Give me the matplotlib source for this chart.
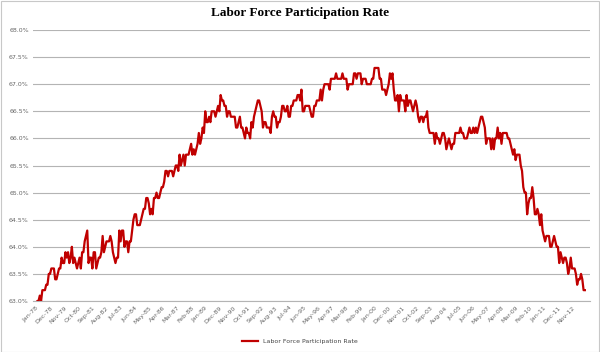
import matplotlib
matplotlib.use("Agg")
import matplotlib.pyplot as plt
import pandas as pd
import numpy as np

# Monthly labor force participation rate, Jan-1978 .. Sep-2013
rate_1978_1987 = [
    62.8, 63.0, 63.0, 63.1, 63.0, 63.2, 63.2, 63.2, 63.3, 63.3, 63.5, 63.5,
    63.6, 63.6, 63.6, 63.4, 63.4, 63.5, 63.6, 63.6, 63.8, 63.7, 63.7, 63.9,
    63.8, 63.9, 63.7, 63.8, 64.0, 63.7, 63.8, 63.7, 63.6, 63.7, 63.8, 63.6,
    63.9, 63.9, 64.1, 64.2, 64.3, 63.7, 63.8, 63.8, 63.6, 63.9, 63.9, 63.6,
    63.7, 63.8, 63.8, 63.9, 64.2, 63.9, 64.0, 64.1, 64.1, 64.1, 64.2, 64.1,
    63.9, 63.8, 63.7, 63.8, 63.8, 64.3, 64.1, 64.3, 64.3, 64.0, 64.1, 64.1,
    63.9, 64.1, 64.1, 64.3, 64.5, 64.6, 64.6, 64.4, 64.4, 64.4, 64.5, 64.6,
    64.7, 64.7, 64.9, 64.9, 64.8, 64.6, 64.7, 64.6, 64.9, 64.9, 65.0, 64.9,
    64.9, 65.0, 65.1, 65.1, 65.2, 65.4, 65.4, 65.3, 65.4, 65.4, 65.4, 65.3,
    65.4, 65.5, 65.5, 65.4, 65.7, 65.5, 65.6, 65.7, 65.5, 65.7, 65.7, 65.7,
]
rate_1988_1997 = [
    65.8, 65.9, 65.7, 65.8, 65.7, 65.8, 65.9, 66.1, 65.9, 66.0, 66.2, 66.1,
    66.5, 66.3, 66.3, 66.4, 66.3, 66.5, 66.5, 66.5, 66.4, 66.5, 66.6, 66.5,
    66.8, 66.7, 66.7, 66.6, 66.6, 66.4, 66.5, 66.5, 66.4, 66.4, 66.4, 66.4,
    66.2, 66.2, 66.3, 66.4, 66.2, 66.2, 66.1, 66.0, 66.2, 66.1, 66.1, 66.0,
    66.3, 66.2, 66.4, 66.5, 66.6, 66.7, 66.7, 66.6, 66.5, 66.2, 66.3, 66.3,
    66.2, 66.2, 66.2, 66.1, 66.4, 66.5, 66.4, 66.4, 66.2, 66.3, 66.3, 66.4,
    66.6, 66.6, 66.5, 66.5, 66.6, 66.4, 66.4, 66.6, 66.6, 66.7, 66.7, 66.7,
    66.8, 66.8, 66.7, 66.9, 66.5, 66.5, 66.6, 66.6, 66.6, 66.6, 66.5, 66.4,
    66.4, 66.6, 66.6, 66.7, 66.7, 66.7, 66.9, 66.7, 66.9, 67.0, 67.0, 67.0,
    67.0, 66.9, 67.1, 67.1, 67.1, 67.1, 67.2, 67.1, 67.1, 67.1, 67.1, 67.2,
]
rate_1998_2013 = [
    67.1, 67.1, 67.1, 66.9, 67.0, 67.0, 67.0, 67.0, 67.2, 67.2, 67.1, 67.2,
    67.2, 67.2, 67.0, 67.1, 67.1, 67.1, 67.0, 67.0, 67.0, 67.0, 67.1, 67.1,
    67.3, 67.3, 67.3, 67.3, 67.1, 67.1, 66.9, 66.9, 66.9, 66.8, 66.9, 67.0,
    67.2, 67.1, 67.2, 66.9, 66.7, 66.7, 66.8, 66.5, 66.8, 66.7, 66.7, 66.7,
    66.5, 66.8, 66.6, 66.7, 66.7, 66.6, 66.5, 66.6, 66.7, 66.6, 66.4, 66.3,
    66.4, 66.4, 66.3, 66.4, 66.4, 66.5, 66.2, 66.1, 66.1, 66.1, 66.1, 65.9,
    66.1, 66.0, 66.0, 65.9, 66.0, 66.1, 66.1, 66.0, 65.8, 65.9, 66.0, 65.9,
    65.8, 65.9, 65.9, 66.1, 66.1, 66.1, 66.1, 66.2, 66.1, 66.1, 66.0, 66.0,
    66.0, 66.1, 66.2, 66.1, 66.1, 66.2, 66.1, 66.2, 66.1, 66.2, 66.3, 66.4,
    66.4, 66.3, 66.2, 65.9, 66.0, 66.0, 66.0, 65.8, 66.0, 65.8, 66.0, 66.0,
    66.2, 66.0, 66.1, 65.9, 66.1, 66.1, 66.1, 66.1, 66.0, 66.0, 65.9, 65.8,
    65.7, 65.8, 65.6, 65.7, 65.7, 65.7, 65.5, 65.4, 65.1, 65.0, 65.0, 64.6,
    64.8, 64.9, 64.9, 65.1, 64.9, 64.6, 64.6, 64.7, 64.6, 64.4, 64.6, 64.3,
    64.2, 64.1, 64.2, 64.2, 64.2, 64.0, 64.0, 64.1, 64.2, 64.1, 64.0, 64.0,
    63.7, 63.9, 63.8, 63.7, 63.8, 63.8, 63.7, 63.5, 63.6, 63.8, 63.6, 63.6,
    63.6, 63.5, 63.3, 63.4, 63.4, 63.5, 63.4, 63.2, 63.2,
]
rate = rate_1978_1987 + rate_1988_1997 + rate_1998_2013
months = pd.date_range("1978-01-01", periods=len(rate), freq="MS")
label_step = 11
y_ticks = [63.0, 63.5, 64.0, 64.5, 65.0, 65.5, 66.0, 66.5, 67.0, 67.5, 68.0]
series_name = "Labor Force Participation Rate"
title = "Labor Force Participation Rate"

fig = plt.figure(figsize=(6.0, 3.52), dpi=100)
ax = fig.add_axes([33 / 600, 1 - 301 / 352, 557 / 600, 271 / 352])

x = np.arange(len(rate))
ax.plot(x, rate, color="#c00000", lw=1.6, label=series_name, zorder=3)

ax.set_ylim(63.0, 68.0)
ax.set_yticks(y_ticks)
ax.set_yticklabels([f"{v:.1f}%" for v in y_ticks])
ax.set_xlim(-2.3, len(rate) + 3)
tick_pos = x[::label_step]
ax.set_xticks(tick_pos)
ax.set_xticklabels([months[i].strftime("%b-%y") for i in tick_pos],
                   rotation=45, ha="right", rotation_mode="anchor")
ax.tick_params(axis="both", length=0, labelsize=4.5, labelcolor="#666666", pad=3)
ax.grid(axis="y", color="#b4b4b4", lw=0.8)
ax.set_axisbelow(True)
for s in ["top", "right", "left"]:
    ax.spines[s].set_visible(False)
ax.spines["bottom"].set_color("#b4b4b4")

fig.text(0.5, 1 - 13 / 352, title, ha="center", va="center",
         family="Liberation Serif", weight="bold", fontsize=9.5)
fig.legend(loc="center", bbox_to_anchor=(0.5, 1 - 341 / 352), frameon=False,
           fontsize=4.5, handlelength=2.5, labelcolor="#444444")

border = plt.Rectangle((0.001, 0.001), 0.997, 0.997, transform=fig.transFigure,
                       fill=False, edgecolor="#c8c8c8", lw=0.8)
fig.patches.append(border)
fig.savefig("out.png", dpi=100)
